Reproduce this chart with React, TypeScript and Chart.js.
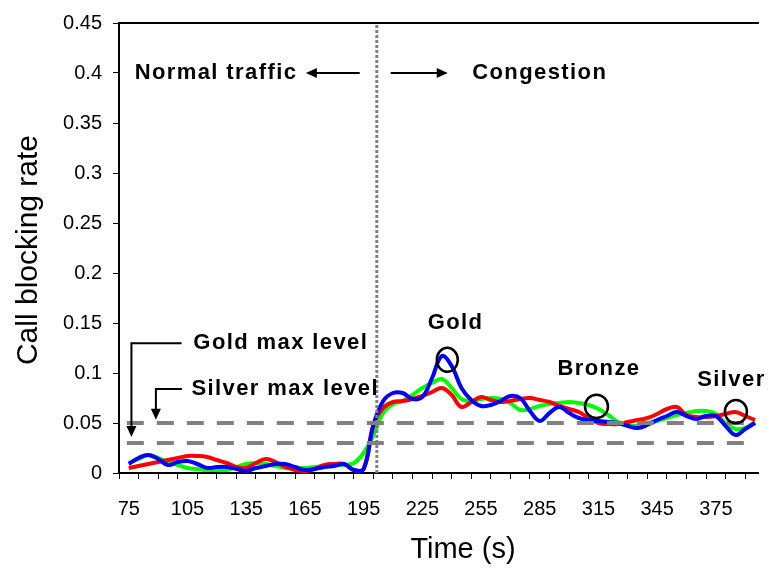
import React, { useEffect, useRef } from 'react';
import { Chart, registerables } from 'chart.js';

Chart.register(...registerables);

// ---- data ----
const times = [
  75, 80, 85, 90, 95, 100, 105, 110, 115, 120, 125, 130, 135, 140, 145, 150,
  155, 160, 165, 170, 175, 180, 185, 190, 195, 200, 205, 210, 215, 220, 225,
  230, 235, 240, 245, 250, 255, 260, 265, 270, 275, 280, 285, 290, 295, 300,
  305, 310, 315, 320, 325, 330, 335, 340, 345, 350, 355, 360, 365, 370, 375,
  380, 385, 390, 395,
];
const greenSeries = [
  0.010, 0.014, 0.018, 0.015, 0.011, 0.008, 0.005, 0.004, 0.003, 0.003, 0.003,
  0.006, 0.009, 0.010, 0.009, 0.007, 0.005, 0.005, 0.005, 0.006, 0.007, 0.008,
  0.008, 0.010, 0.020, 0.038, 0.060, 0.069, 0.072, 0.078, 0.085, 0.090, 0.094,
  0.085, 0.074, 0.072, 0.074, 0.075, 0.074, 0.070, 0.063, 0.064, 0.067, 0.069,
  0.070, 0.071, 0.070, 0.068, 0.064, 0.058, 0.051, 0.048, 0.047, 0.050, 0.052,
  0.055, 0.058, 0.060, 0.062, 0.062, 0.059, 0.050, 0.044, 0.045, 0.051,
];
const redSeries = [
  0.005, 0.007, 0.009, 0.011, 0.013, 0.015, 0.017, 0.017, 0.016, 0.013, 0.010,
  0.006, 0.005, 0.010, 0.014, 0.011, 0.006, 0.003, 0.002, 0.004, 0.008, 0.009,
  0.009, 0.003, 0.004, 0.048, 0.065, 0.071, 0.072, 0.074, 0.077, 0.081, 0.085,
  0.078, 0.066, 0.071, 0.076, 0.073, 0.071, 0.072, 0.074, 0.075, 0.073, 0.071,
  0.067, 0.064, 0.061, 0.055, 0.050, 0.049, 0.049, 0.051, 0.053, 0.055, 0.059,
  0.064, 0.066, 0.058, 0.056, 0.056, 0.057, 0.059, 0.061, 0.057, 0.053,
];
const blueSeries = [
  0.009, 0.015, 0.018, 0.014, 0.008, 0.011, 0.012, 0.009, 0.005, 0.006, 0.006,
  0.004, 0.002, 0.005, 0.007, 0.009, 0.009, 0.006, 0.003, 0.004, 0.006, 0.007,
  0.009, 0.003, 0.004, 0.048, 0.072, 0.080, 0.080, 0.074, 0.076, 0.095, 0.117,
  0.107, 0.085, 0.073, 0.067, 0.068, 0.072, 0.077, 0.075, 0.062, 0.052, 0.060,
  0.066, 0.060, 0.055, 0.053, 0.052, 0.051, 0.050, 0.047, 0.045, 0.048, 0.053,
  0.057, 0.061, 0.057, 0.054, 0.057, 0.057, 0.047, 0.038, 0.044, 0.050,
];
const xTickLabels = [75, 105, 135, 165, 195, 225, 255, 285, 315, 345, 375];
const yTickValues = [0, 0.05, 0.1, 0.15, 0.2, 0.25, 0.3, 0.35, 0.4, 0.45];
const goldMaxLevel = 0.05;
const silverMaxLevel = 0.03;
const levelStart = 74;
const levelEnd = 392;
const congestionStart = 201.75;

// annotation anchors in data units
const textNotes = [
  { text: 'Normal traffic', t: 78, v: 0.4, align: 'left' },
  { text: 'Congestion', t: 250.5, v: 0.4, align: 'left' },
  { text: 'Gold max level', t: 108, v: 0.13, align: 'left' },
  { text: 'Silver max level', t: 107, v: 0.084, align: 'left' },
  { text: 'Gold', t: 242, v: 0.15, align: 'center' },
  { text: 'Bronze', t: 315.25, v: 0.104, align: 'center' },
  { text: 'Silver', t: 365.5, v: 0.093, align: 'left' },
];
const circleNotes = [
  { t: 237.75, v: 0.1132, rx: 10.5, ry: 12 },
  { t: 314, v: 0.0666, rx: 11.5, ry: 11.7 },
  { t: 385.25, v: 0.0614, rx: 11, ry: 11.7 },
];
const arrowNotes = [
  { pts: [[193, 0.4], [165.5, 0.4]] },
  { pts: [[208.85, 0.4], [238, 0.4]] },
  { pts: [[102, 0.1297], [76.35, 0.1297], [76.35, 0.0359]] },
  { pts: [[102.15, 0.0839], [88.85, 0.0839], [88.85, 0.0532]] },
];

const FONT = '"Liberation Sans", Arial, sans-serif';

const annotationPlugin = {
  id: 'annotations',
  afterDraw(chart: any) {
    const { ctx, scales, chartArea } = chart;
    const xs = scales.x;
    const ys = scales.y;
    ctx.save();
    // top border
    ctx.strokeStyle = '#000';
    ctx.lineWidth = 2;
    ctx.beginPath();
    ctx.moveTo(chartArea.left, chartArea.top);
    ctx.lineTo(chartArea.right, chartArea.top);
    ctx.stroke();

    // arrows
    ctx.lineWidth = 2;
    ctx.fillStyle = '#000';
    for (const a of arrowNotes) {
      const p = a.pts.map(([t, v]) => [xs.getPixelForValue(t), ys.getPixelForValue(v)]);
      const n = p.length;
      const [x2, y2] = p[n - 1];
      const [x1, y1] = p[n - 2];
      const ang = Math.atan2(y2 - y1, x2 - x1);
      const L = 11;
      const W = 5;
      ctx.beginPath();
      ctx.moveTo(p[0][0], p[0][1]);
      for (let i = 1; i < n - 1; i++) ctx.lineTo(p[i][0], p[i][1]);
      ctx.lineTo(x2 - Math.cos(ang) * (L - 1), y2 - Math.sin(ang) * (L - 1));
      ctx.stroke();
      ctx.beginPath();
      ctx.moveTo(x2, y2);
      ctx.lineTo(x2 - Math.cos(ang) * L - Math.sin(ang) * W, y2 - Math.sin(ang) * L + Math.cos(ang) * W);
      ctx.lineTo(x2 - Math.cos(ang) * L + Math.sin(ang) * W, y2 - Math.sin(ang) * L - Math.cos(ang) * W);
      ctx.closePath();
      ctx.fill();
    }

    // circles
    ctx.lineWidth = 2.5;
    for (const c of circleNotes) {
      ctx.beginPath();
      ctx.ellipse(xs.getPixelForValue(c.t), ys.getPixelForValue(c.v), c.rx, c.ry, 0, 0, Math.PI * 2);
      ctx.stroke();
    }

    // texts
    ctx.font = `bold 22px ${FONT}`;
    (ctx as any).letterSpacing = '1.4px';
    ctx.textBaseline = 'middle';
    for (const n of textNotes) {
      ctx.textAlign = n.align as CanvasTextAlign;
      ctx.fillText(n.text, xs.getPixelForValue(n.t), ys.getPixelForValue(n.v));
    }
    (ctx as any).letterSpacing = '0px';

    // axis titles
    ctx.textAlign = 'center';
    ctx.textBaseline = 'middle';
    ctx.font = `29px ${FONT}`;
    ctx.fillText('Time (s)', 463, 550);
    ctx.font = `30px ${FONT}`;
    ctx.translate(29, 250);
    ctx.rotate(-Math.PI / 2);
    ctx.fillText('Call blocking rate', 0, 0);
    ctx.restore();
  },
};

export default function App() {
  const ref = useRef<HTMLCanvasElement>(null);
  useEffect(() => {
    if (!ref.current) return;
    const toPts = (arr: number[]) => times.map((t, i) => ({ x: t, y: arr[i] }));
    const chart = new Chart(ref.current, {
      type: 'line',
      data: {
        datasets: [
          {
            data: [
              { x: congestionStart, y: 0 },
              { x: congestionStart, y: 0.45 },
            ],
            borderColor: '#808080',
            borderWidth: 3,
            borderDash: [3, 2],
            pointRadius: 0,
            order: 0,
          },
          {
            data: [
              { x: levelStart, y: goldMaxLevel },
              { x: levelEnd, y: goldMaxLevel },
            ],
            borderColor: '#808080',
            borderWidth: 4,
            borderDash: [17, 13],
            pointRadius: 0,
            order: 1,
          },
          {
            data: [
              { x: levelStart, y: silverMaxLevel },
              { x: levelEnd, y: silverMaxLevel },
            ],
            borderColor: '#808080',
            borderWidth: 4,
            borderDash: [17, 13],
            pointRadius: 0,
            order: 1,
          },
          {
            data: toPts(blueSeries),
            borderColor: '#0000FF',
            borderWidth: 4,
            pointRadius: 0,
            tension: 0.4,
            order: 2,
          },
          {
            data: toPts(redSeries),
            borderColor: '#FF0000',
            borderWidth: 4,
            pointRadius: 0,
            tension: 0.4,
            order: 3,
          },
          {
            data: toPts(greenSeries),
            borderColor: '#00FF00',
            borderWidth: 4,
            pointRadius: 0,
            tension: 0.4,
            order: 4,
          },
        ],
      },
      options: {
        animation: false,
        responsive: false,
        layout: { padding: { top: 19, right: 0, left: 0, bottom: 0 } },
        plugins: { legend: { display: false }, tooltip: { enabled: false } },
        scales: {
          x: {
            type: 'linear',
            min: 70,
            max: 397,
            afterFit: (s: any) => {
              s.height = 100;
            },
            afterBuildTicks: (s: any) => {
              const ticks = [];
              for (let v = 70; v <= 395; v += 5) ticks.push({ value: v });
              s.ticks = ticks;
            },
            grid: {
              drawOnChartArea: false,
              drawTicks: true,
              tickLength: 6,
              tickWidth: 1,
              tickColor: (c: any) => (c.tick && c.tick.value % 10 === 0 ? '#000' : 'rgba(0,0,0,0)'),
            },
            border: { display: true, color: '#000', width: 2 },
            ticks: {
              autoSkip: false,
              maxRotation: 0,
              padding: 18,
              color: '#000',
              font: { family: FONT, size: 20 },
              callback: (v: any) => (xTickLabels.includes(v) ? String(v) : ''),
            },
          },
          y: {
            min: 0,
            max: 0.45,
            afterFit: (s: any) => {
              s.width = 119;
            },
            afterBuildTicks: (s: any) => {
              s.ticks = yTickValues.map((v) => ({ value: v }));
            },
            grid: {
              drawOnChartArea: false,
              drawTicks: true,
              tickLength: 6,
              tickWidth: 1,
              tickColor: '#000',
            },
            border: { display: true, color: '#000', width: 2 },
            ticks: {
              padding: 11,
              color: '#000',
              font: { family: FONT, size: 20 },
              callback: (v: any) => String(Number(Number(v).toFixed(2))),
            },
          },
        },
      },
      plugins: [annotationPlugin],
    });
    return () => chart.destroy();
  }, []);
  return (
    <canvas
      ref={ref}
      width={773}
      height={573}
      style={{ position: 'absolute', left: 0, top: 0, display: 'block' }}
    />
  );
}
